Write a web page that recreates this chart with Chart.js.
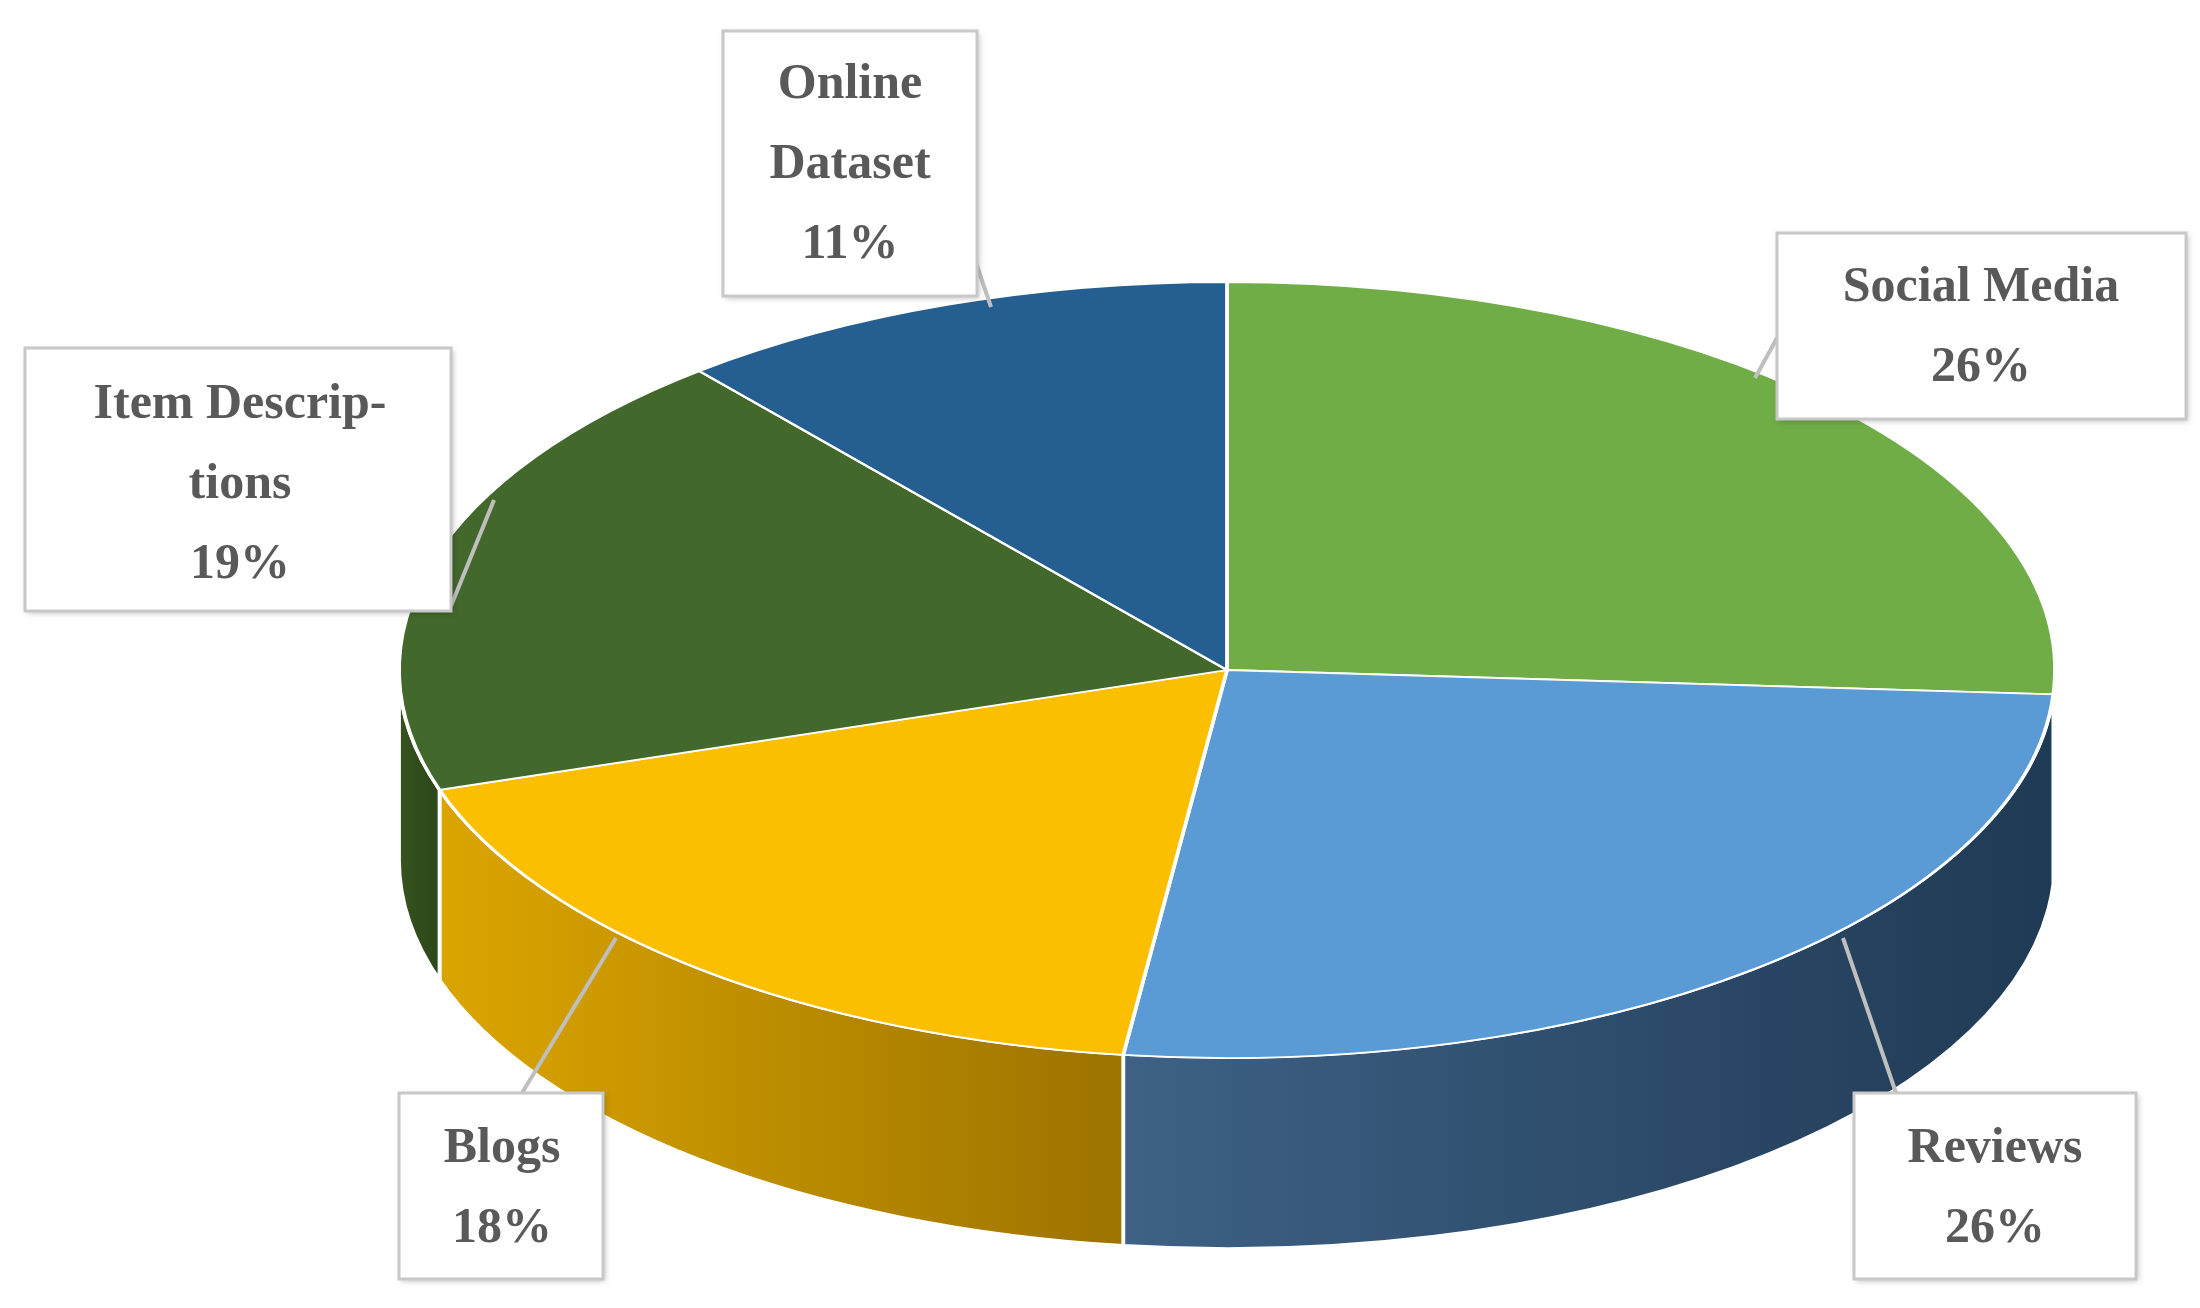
<!DOCTYPE html>
<html lang="en">
<head>
<meta charset="UTF-8">
<title>Data sources</title>
<script src="https://cdn.jsdelivr.net/npm/chart.js"></script>
<style>
  html, body { margin: 0; padding: 0; background: #fff; }
  #wrap { width: 2200px; height: 1308px; }
</style>
</head>
<body>
<div id="wrap"><canvas id="pieChart"></canvas></div>
<script>
const categories = ['Social Media', 'Reviews', 'Blogs', 'Item Descriptions', 'Online Dataset'];
const shares = [26, 26, 18, 19, 11];
const labelLines = [['Social Media', '26%'], ['Reviews', '26%'], ['Blogs', '18%'], ['Item Descrip-', 'tions', '19%'], ['Online', 'Dataset', '11%']];
const topColors = ['#70ad47', '#5b9bd5', '#fbbf00', '#43682b', '#255e91'];
const sideColors = [['#5a8f38', '#4a7a2e'], ['#3e6185', '#1f3a54'], ['#dba500', '#9c7300'], ['#36531f', '#2d4719'], ['#1e4d77', '#173d60']];

// where the tilted pie sits on the page
const face = { cx: 1227, cy: 670, rx: 828, ry: 388, depth: 190 };

// label boxes: [left, top, right, bottom], first line baseline-ish centre, leader line
const boxes = [
  { box: [1777, 233, 2186, 419], tx: 1981, ty: 288, lead: [1777, 338, 1755, 378] },
  { box: [1854, 1093, 2136, 1279], tx: 1995, ty: 1149, lead: [1896, 1093, 1843, 938] },
  { box: [399, 1093, 603, 1279], tx: 502, ty: 1149, lead: [522, 1093, 616, 938] },
  { box: [25, 348, 451, 611], tx: 240, ty: 405, lead: [451, 606, 494, 500] },
  { box: [723, 31, 977, 296], tx: 850, ty: 85, lead: [973, 254, 991, 307] }
];

const tiltPlugin = {
  id: 'tilt',
  beforeDatasetsDraw(chart) {
    const ctx = chart.ctx;
    const arcs = chart.getDatasetMeta(0).data;
    const a0 = arcs[0];
    const r = a0.outerRadius;
    const sx = face.rx / r, sy = face.ry / r;
    ctx.save();
    ctx.translate(face.cx, face.cy);
    ctx.scale(sx, sy);
    ctx.translate(-a0.x, -a0.y);
    const D = face.depth / sy;
    // side walls, front half only
    arcs.forEach((arc, i) => {
      const s = Math.max(arc.startAngle, 0);
      const e = Math.min(arc.endAngle, Math.PI);
      if (e <= s) return;
      const x1 = arc.x + r * Math.cos(e), x0 = arc.x + r * Math.cos(s);
      const g = ctx.createLinearGradient(Math.min(x0, x1), 0, Math.max(x0, x1), 0);
      g.addColorStop(0, sideColors[i][0]);
      g.addColorStop(1, sideColors[i][1]);
      ctx.beginPath();
      ctx.arc(arc.x, arc.y, r, s, e);
      ctx.lineTo(arc.x + r * Math.cos(e), arc.y + r * Math.sin(e) + D);
      ctx.arc(arc.x, arc.y + D, r, e, s, true);
      ctx.closePath();
      ctx.fillStyle = g;
      ctx.fill();
      ctx.lineWidth = 3;
      ctx.strokeStyle = '#ffffff';
      ctx.stroke();
    });
  },
  afterDatasetsDraw(chart) {
    const ctx = chart.ctx;
    ctx.restore();
    ctx.save();
    boxes.forEach((b, i) => {
      const [l, t, rr, bt] = b.box;
      ctx.strokeStyle = '#bfbfbf';
      ctx.lineWidth = 4;
      ctx.beginPath();
      ctx.moveTo(b.lead[0], b.lead[1]);
      ctx.lineTo(b.lead[2], b.lead[3]);
      ctx.stroke();
      ctx.shadowColor = 'rgba(0,0,0,0.25)';
      ctx.shadowBlur = 6;
      ctx.shadowOffsetX = 2;
      ctx.shadowOffsetY = 2;
      ctx.fillStyle = '#ffffff';
      ctx.fillRect(l, t, rr - l, bt - t);
      ctx.shadowColor = 'transparent';
      ctx.strokeStyle = '#c8c8c8';
      ctx.lineWidth = 3;
      ctx.strokeRect(l, t, rr - l, bt - t);
      ctx.fillStyle = '#595959';
      ctx.font = 'bold 50px "Liberation Serif", "DejaVu Serif", serif';
      ctx.textAlign = 'center';
      ctx.textBaseline = 'middle';
      labelLines[i].forEach((line, k) => ctx.fillText(line, b.tx, b.ty + k * 80));
    });
    ctx.restore();
  }
};

new Chart(document.getElementById('pieChart'), {
  type: 'pie',
  data: {
    labels: categories,
    datasets: [{
      data: shares,
      backgroundColor: topColors,
      borderColor: '#ffffff',
      borderWidth: 3
    }]
  },
  options: {
    responsive: true,
    maintainAspectRatio: false,
    animation: false,
    plugins: { legend: { display: false }, tooltip: { enabled: false } }
  },
  plugins: [tiltPlugin]
});
</script>
</body>
</html>
